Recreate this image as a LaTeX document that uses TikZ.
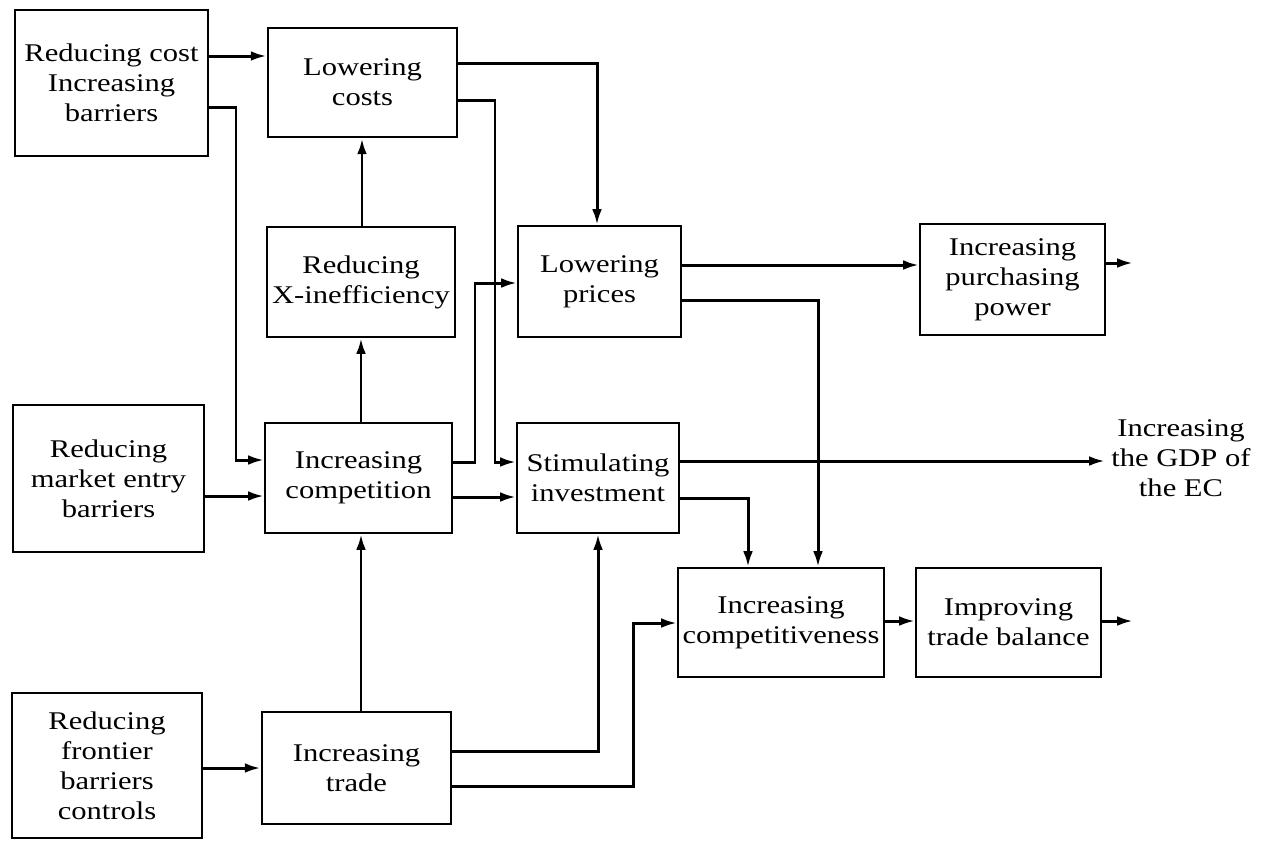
\documentclass[tikz,border=0pt]{standalone}
\usepackage{fontspec}
\setmainfont{Liberation Serif}[FakeStretch=1.2]
\usetikzlibrary{arrows.meta}
\begin{document}
\begin{tikzpicture}[x=0.02cm,y=-0.02cm,
  bx/.style 2 args={draw=black, line width=1.1pt, align=center, inner sep=0pt,
     minimum width=#1*0.02cm, minimum height=#2*0.02cm,
     font=\fontsize{14.5}{17}\selectfont},
  heavy/.style={line width=1.5pt},
  arr/.style={line width=1.7pt, -{Latex[length=9pt,width=5.5pt]}},
  lbl/.style={align=center, inner sep=0pt, font=\fontsize{14.5}{17}\selectfont}]
\useasboundingbox[fill=white] (0,0) rectangle (1268,840);
% boxes
\node[bx={193}{146}] (b1) at (111.5,83) {Reducing cost\\Increasing\\barriers};
\node[bx={189}{109},heavy] (lc) at (362.5,82.5) {Lowering\\costs};
\node[bx={188}{110}] (xi) at (361,282) {Reducing\\X-inefficiency};
\node[bx={163}{111}] (lp) at (599.5,281.5) {Lowering\\prices};
\node[bx={185}{111}] (pp) at (1012.5,279.5) {Increasing\\purchasing\\power};
\node[bx={191}{147}] (me) at (108.5,478.5) {Reducing\\market entry\\barriers};
\node[bx={187}{110}] (ic) at (358.5,478) {Increasing\\competition};
\node[bx={162}{110}] (si) at (598,478) {Stimulating\\investment};
\node[bx={206}{109}] (cp) at (781,622.5) {Increasing\\competitiveness};
\node[bx={185}{109}] (tb) at (1008.5,622.5) {Improving\\trade balance};
\node[bx={190}{145}] (fr) at (107,765.5) {Reducing\\frontier\\barriers\\controls};
\node[bx={189}{112},heavy] (it) at (356.5,768) {Increasing\\trade};
\node[lbl] (gdp) at (1181,458) {Increasing\\the GDP of\\the EC};
\coordinate (ppout) at (1133,263);
\coordinate (tbout) at (1133,621);
\coordinate (gdpin) at (1105,461);
% connectors
\draw[arr] (b1.east |- 0,56) -- (lc.west |- 0,56);
\draw[arr] (b1.east |- 0,107) -| (236,460) -- (ic.west |- 0,460);
\draw[arr] (me.east |- 0,496) -- (ic.west |- 0,496);
\draw[arr] (fr.east |- 0,768) -- (it.west |- 0,768);
\draw[arr] (it.north -| 361,0) -- (ic.south -| 361,0);
\draw[arr] (ic.north -| 361,0) -- (xi.south -| 361,0);
\draw[arr] (xi.north -| 362,0) -- (lc.south -| 362,0);
\draw[arr] (lc.east |- 0,63) -| (lp.north -| 597,0);
\draw[arr] (lc.east |- 0,100) -| (495,462) -- (si.west |- 0,462);
\draw[arr] (ic.east |- 0,462) -| (475,283) -- (lp.west |- 0,283);
\draw[arr] (ic.east |- 0,497) -- (si.west |- 0,497);
\draw[arr] (lp.east |- 0,265) -- (pp.west |- 0,265);
\draw[arr] (lp.east |- 0,300) -| (cp.north -| 818,0);
\draw[arr] (pp.east |- ppout) -- (ppout);
\draw[arr] (si.east |- gdpin) -- (gdpin);
\draw[arr] (si.east |- 0,498) -| (cp.north -| 748,0);
\draw[arr] (it.east |- 0,751) -| (si.south -| 598,0);
\draw[arr] (it.east |- 0,786) -| (633,623) -- (cp.west |- 0,623);
\draw[arr] (cp.east |- 0,621) -- (tb.west |- 0,621);
\draw[arr] (tb.east |- tbout) -- (tbout);
\end{tikzpicture}
\end{document}
